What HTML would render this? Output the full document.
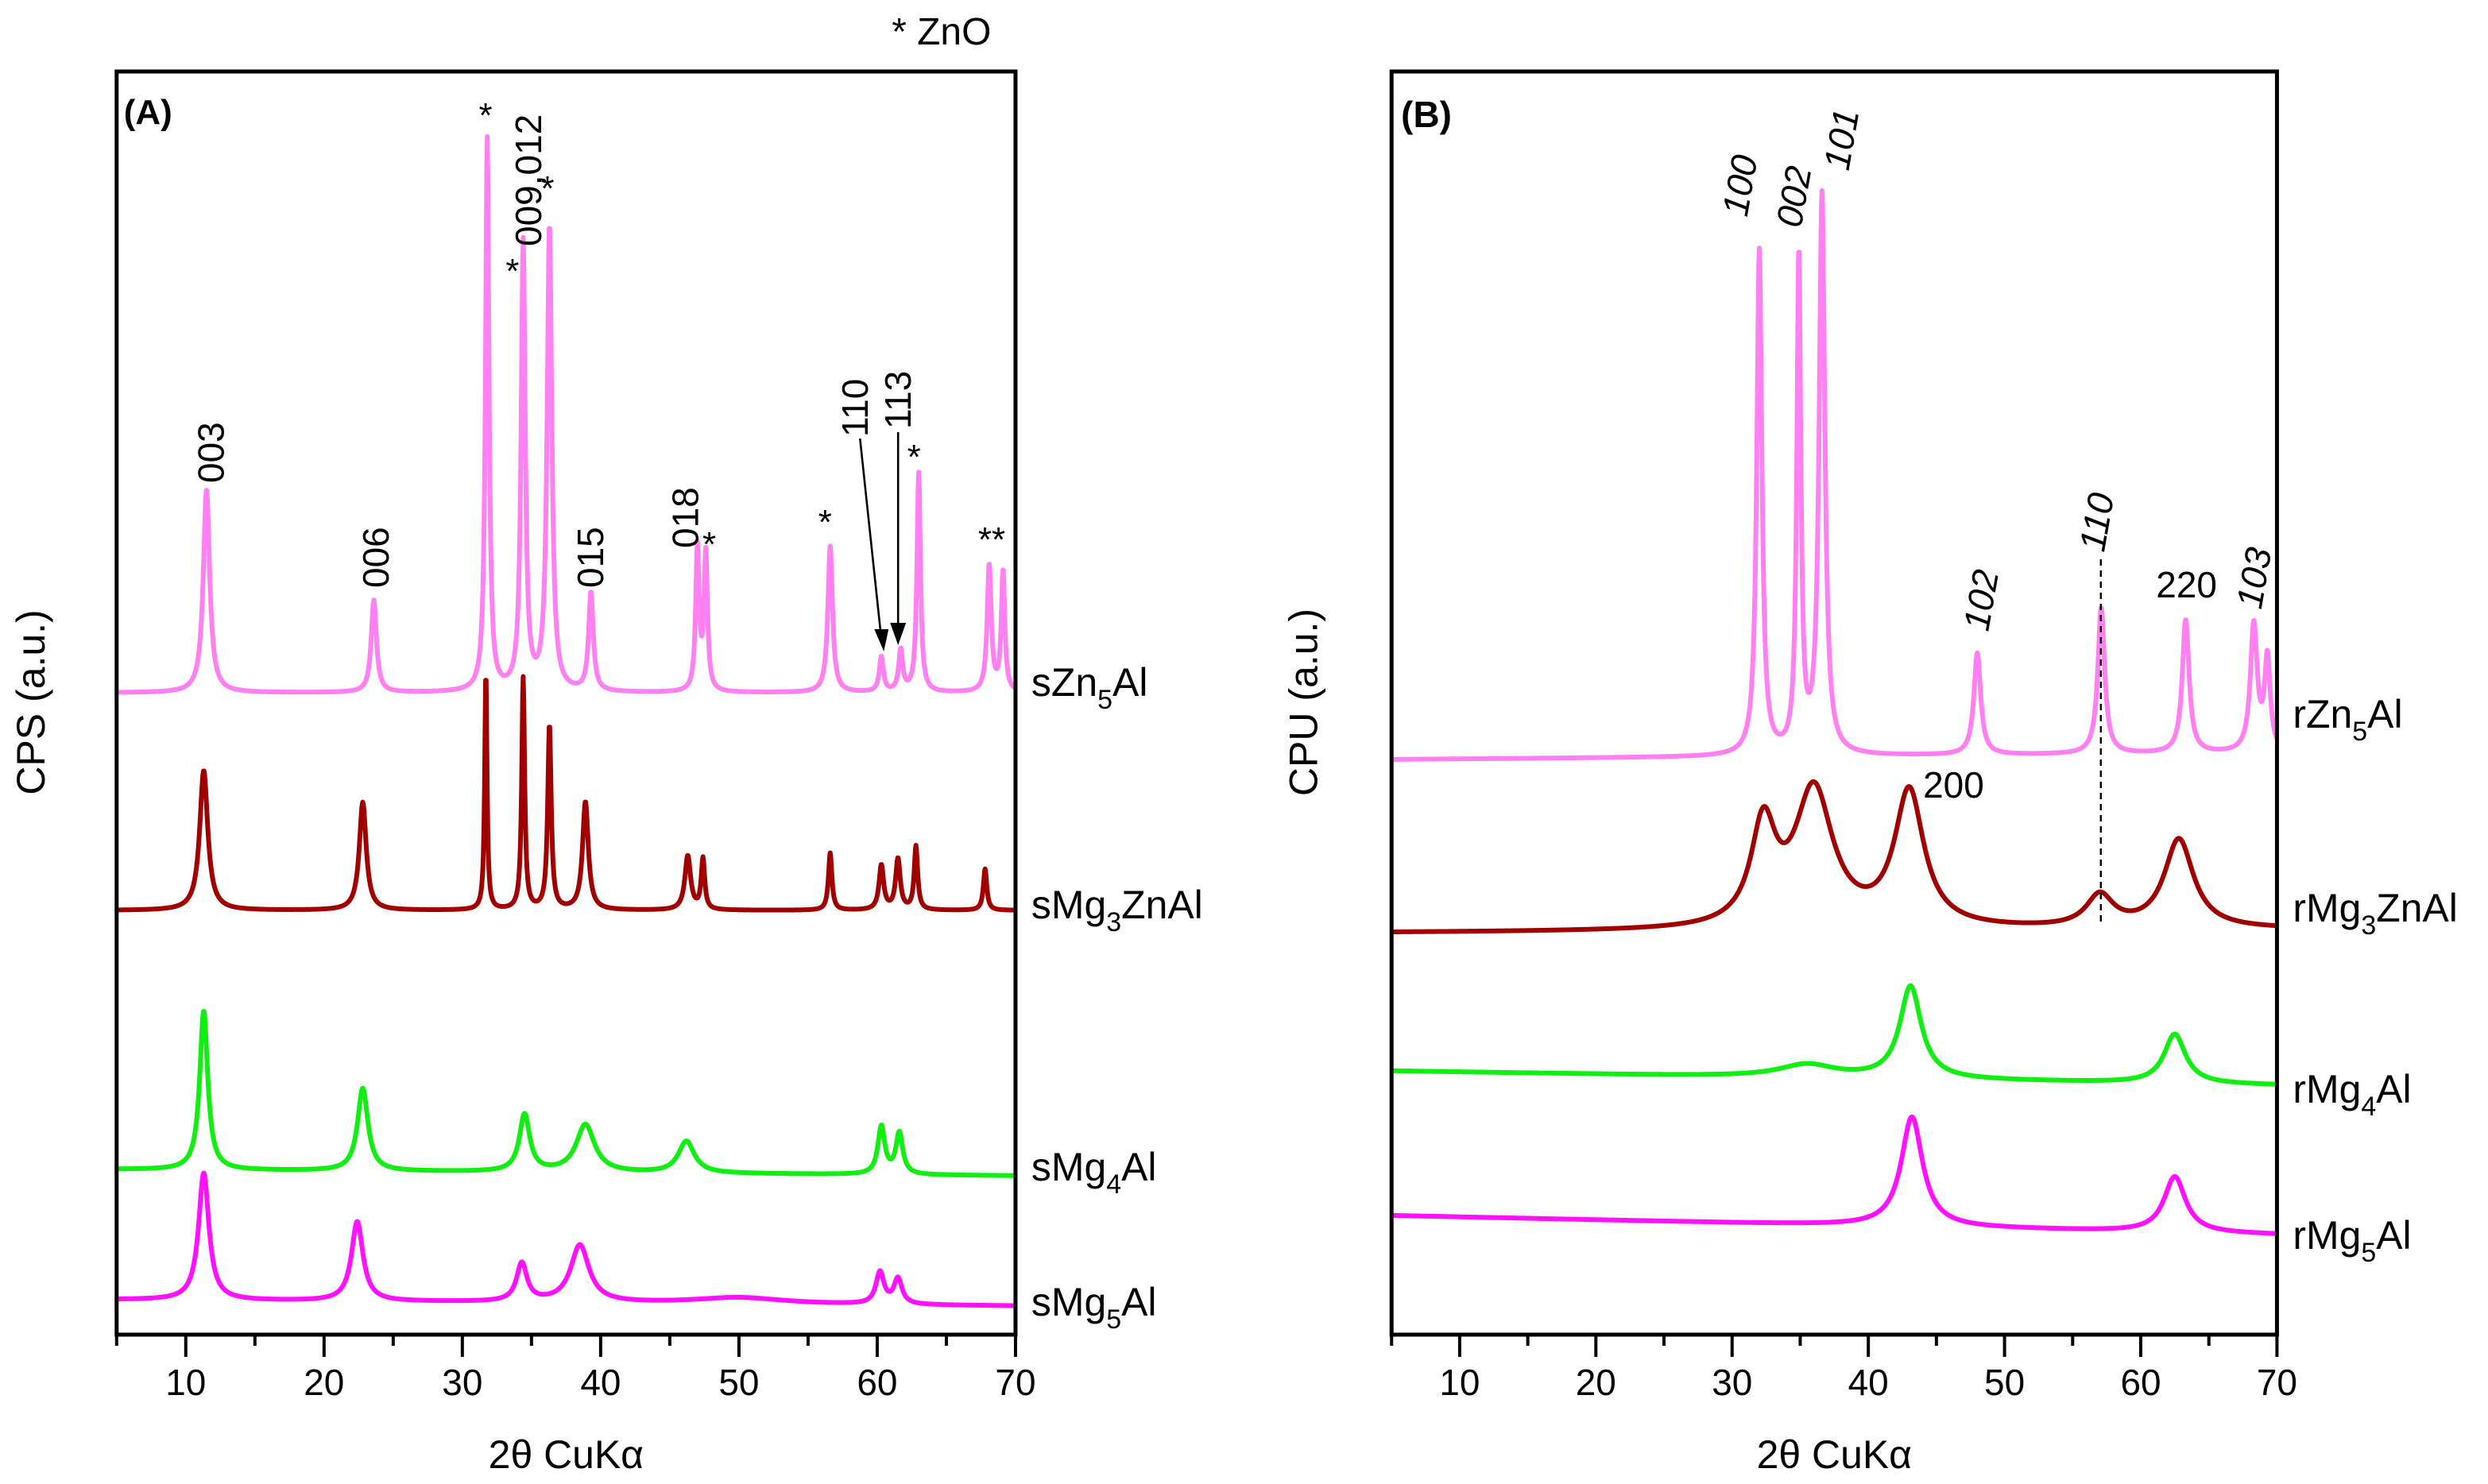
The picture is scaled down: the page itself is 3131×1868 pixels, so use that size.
<!DOCTYPE html>
<html><head><meta charset="utf-8">
<style>
html,body{margin:0;padding:0;background:#fff;}
svg{display:block;}
text{font-family:"Liberation Sans Narrow","Liberation Sans",sans-serif;fill:#000;}
</style></head>
<body>
<svg id="chart" width="3131" height="1868" viewBox="0 0 1568 934" preserveAspectRatio="none" xmlns="http://www.w3.org/2000/svg">
  <g id="panelA"></g>
  <g id="panelB"></g>
</svg>
<script>
// ---------- DATA ----------
const xTicks = [10, 20, 30, 40, 50, 60, 70];
const xTickLabels = ["10", "20", "30", "40", "50", "60", "70"];
// Panel A series: peak positions (2θ), heights (a.u.), widths (FWHM deg)
const sZn5AlPos = [11.5, 23.6, 31.8, 34.4, 36.3, 39.3, 47.0, 47.6, 56.6, 60.3, 61.7, 63.0, 68.1, 69.1];
const sZn5AlHeight = [128, 58, 348, 282, 292, 62, 90, 86, 92, 22, 26, 138, 80, 76];
const sZn5AlWidth = [0.55, 0.45, 0.3, 0.35, 0.4, 0.4, 0.3, 0.3, 0.4, 0.35, 0.35, 0.3, 0.35, 0.3];
const sMg3ZnAlPos = [11.3, 22.8, 31.7, 34.4, 36.3, 38.9, 46.3, 47.4, 56.6, 60.3, 61.5, 62.8, 67.8];
const sMg3ZnAlHeight = [88, 68, 150, 146, 116, 68, 34, 32, 36, 28, 32, 40, 26];
const sMg3ZnAlWidth = [0.7, 0.6, 0.2, 0.25, 0.3, 0.5, 0.5, 0.3, 0.3, 0.4, 0.4, 0.3, 0.3];
const sMg4AlPos = [11.3, 22.8, 34.5, 38.9, 46.2, 60.3, 61.6];
const sMg4AlHeight = [100, 52, 36, 30, 20, 30, 26];
const sMg4AlWidth = [0.7, 0.9, 0.9, 1.6, 1.4, 0.6, 0.6];
const sMg5AlPos = [11.3, 22.4, 34.3, 38.5, 50.0, 60.2, 61.5];
const sMg5AlHeight = [80, 50, 24, 36, 4, 20, 16];
const sMg5AlWidth = [0.9, 1.0, 0.9, 1.6, 8, 0.7, 0.7];
// Panel B series
const rZn5AlPos = [32.0, 34.9, 36.6, 48.0, 57.1, 63.3, 68.3, 69.3];
const rZn5AlHeight = [318, 312, 352, 64, 92, 84, 80, 58];
const rZn5AlWidth = [0.45, 0.35, 0.5, 0.6, 0.6, 0.6, 0.6, 0.5];
const rMg3ZnAlPos = [32.3, 36.0, 43.0, 57.0, 62.8];
const rMg3ZnAlHeight = [62, 86, 85, 20, 56];
const rMg3ZnAlWidth = [2.2, 3.4, 2.6, 2.4, 2.6];
const rMg4AlPos = [35.5, 43.1, 62.5];
const rMg4AlHeight = [8, 58, 31];
const rMg4AlWidth = [5, 1.9, 1.9];
const rMg5AlPos = [43.2, 62.5];
const rMg5AlHeight = [69, 35];
const rMg5AlWidth = [1.9, 1.9];
// baselines (a.u. offsets, start/end)
const baseA = [[436, 436], [573, 573], [736, 740], [818, 822]];
const baseB = [[478, 474], [587, 585], [674, 683], [765, 777]];

// ---------- HELPERS ----------
const NS = "http://www.w3.org/2000/svg";
function mk(tag, attrs, parent, txt) {
  const e = document.createElementNS(NS, tag);
  for (const k in attrs) e.setAttribute(k, attrs[k]);
  if (txt !== undefined) e.textContent = txt;
  parent.appendChild(e);
  return e;
}
function curve(pos, h, w, base, t) {
  let v = base[0] + (base[1] - base[0]) * (t - 5) / 65;
  for (let i = 0; i < pos.length; i++) {
    const d = (t - pos[i]) / (w[i] / 2);
    v -= h[i] / (1 + d * d);
  }
  return v;
}

function panel(g, x0, x1, yTop, yBot, series, colors, names, baseArr, ytitle, ytitleX, tag) {
  const xs = t => x0 + (t - 5) * (x1 - x0) / 65;
  series.forEach((s, i) => {
    let d = "";
    for (let t = 5; t <= 70.0001; t += 0.04) {
      d += (d ? "L" : "M") + xs(t).toFixed(2) + "," + curve(s[0], s[1], s[2], baseArr[i], t).toFixed(2);
    }
    const p = mk("path", {d: d, fill: "none", stroke: colors[i], "stroke-width": 3, "stroke-linejoin": "round"}, g);
    
    
  });
  const fr = mk("rect", {x: x0, y: yTop, width: x1 - x0, height: yBot - yTop, fill: "none", stroke: "#000", "stroke-width": 2.5}, g);
  
  
  for (let t = 5; t <= 70; t += 5) {
    const major = t % 10 === 0;
    const tk = mk("line", {x1: xs(t), x2: xs(t), y1: yBot, y2: yBot + (major ? 14 : 7), stroke: "#000", "stroke-width": 2}, g);
    
    
  }
  xTicks.forEach((t, i) => {
    const tl = mk("text", {x: xs(t), y: yBot + 38, "font-size": 23, "text-anchor": "middle"}, g, xTickLabels[i]);
    
    
  });
  const xt = mk("text", {x: (x0 + x1) / 2, y: yBot + 84, "font-size": 25, "text-anchor": "middle"}, g, "2θ CuKα");
  
  
  const yt = mk("text", {x: 0, y: 0, "font-size": 25, "text-anchor": "middle", transform: "translate(" + ytitleX + ",442) rotate(-90)"}, g, ytitle);
  
  
  return xs;
}
function label(g, x, y, txt, name, opts) {
  opts = opts || {};
  const a = {x: x, y: y, "font-size": opts.size || 22};
  if (opts.rot) { a.transform = "rotate(-90 " + x + " " + y + ")"; }
  if (opts.italic) a["font-style"] = "italic";
  if (opts.bold) a["font-weight"] = "bold";
  if (opts.anchor) a["text-anchor"] = opts.anchor;
  const e = mk("text", a, g, "");
  
  
  return e;
}
function seriesLabel(g, x, y, pre, sub, post, name) {
  const e = label(g, x, y, "", name, {size: 25});
  mk("tspan", {}, e, pre);
  mk("tspan", {dy: 8, "font-size": 17}, e, sub);
  mk("tspan", {dy: -8}, e, post);
}

// ---------- PANEL A ----------
const gA = document.getElementById("panelA");
panel(gA, 73.5, 640, 45, 840,
  [[sZn5AlPos, sZn5AlHeight, sZn5AlWidth], [sMg3ZnAlPos, sMg3ZnAlHeight, sMg3ZnAlWidth],
   [sMg4AlPos, sMg4AlHeight, sMg4AlWidth], [sMg5AlPos, sMg5AlHeight, sMg5AlWidth]],
  ["#ff80f0", "#a00000", "#11ee11", "#ff11ff"], ["sZn5Al", "sMg3ZnAl", "sMg4Al", "sMg5Al"], baseA,
  "CPS (a.u.)", 28, "a");
label(gA, 78, 78, "(A)", "panel-a-tag", {size: 22, bold: true}).textContent = "(A)";
label(gA, 562, 28, "* ZnO", "zno-legend", {size: 24}).textContent = "* ZnO";
[["003", 141, 304], ["006", 245, 370], ["009,012", 341, 155], ["015", 380, 370], ["018", 440, 345], ["110", 547, 275], ["113", 574, 270]]
  .forEach(l => { label(gA, l[1], l[2], "", "peak-label-" + l[0].replace(",", "-"), {rot: true, size: 23}).textContent = l[0]; });
[[306, 80, "*"], [323, 178, "*"], [345, 126, "*"], [447, 350, "*"], [520, 336, "*"], [576, 295, "*"], [625, 347, "**"]]
  .forEach((s, i) => { label(gA, s[0], s[1], "", "zno-star-" + i, {size: 22, anchor: "middle"}).textContent = s[2]; });
const arr1 = mk("path", {d: "M542,276 L555,398", stroke: "#000", "stroke-width": 1.3, fill: "none"}, gA);


const ah1 = mk("path", {d: "M551,396 L560,396 L557,410 Z", fill: "#000"}, gA);


const arr2 = mk("path", {d: "M566,272 L566,394", stroke: "#000", "stroke-width": 1.3, fill: "none"}, gA);


const ah2 = mk("path", {d: "M561,392 L571,392 L566,406 Z", fill: "#000"}, gA);


seriesLabel(gA, 650, 438, "sZn", "5", "Al", "series-label-szn5al");
seriesLabel(gA, 650, 578, "sMg", "3", "ZnAl", "series-label-smg3znal");
seriesLabel(gA, 650, 743, "sMg", "4", "Al", "series-label-smg4al");
seriesLabel(gA, 650, 828, "sMg", "5", "Al", "series-label-smg5al");

// ---------- PANEL B ----------
const gB = document.getElementById("panelB");
const xsB = panel(gB, 877, 1435, 45, 840,
  [[rZn5AlPos, rZn5AlHeight, rZn5AlWidth], [rMg3ZnAlPos, rMg3ZnAlHeight, rMg3ZnAlWidth],
   [rMg4AlPos, rMg4AlHeight, rMg4AlWidth], [rMg5AlPos, rMg5AlHeight, rMg5AlWidth]],
  ["#ff80f0", "#a00000", "#11ee11", "#ff11ff"], ["rZn5Al", "rMg3ZnAl", "rMg4Al", "rMg5Al"], baseB,
  "CPU (a.u.)", 830, "b");
label(gB, 883, 80, "", "panel-b-tag", {size: 23, bold: true}).textContent = "(B)";
[["100", 1101, 137], ["002", 1135, 144], ["101", 1165, 108], ["102", 1253, 398], ["110", 1326, 348], ["103", 1425, 384]]
  .forEach(l => {
    const e = label(gB, l[1], l[2], "", "peak-label-b-" + l[0], {italic: true, size: 23});
    e.setAttribute("transform", "rotate(-80 " + l[1] + " " + l[2] + ")");
    e.textContent = l[0];
  });
label(gB, 1378, 376, "", "peak-label-b-220", {size: 23, anchor: "middle"}).textContent = "220";
label(gB, 1212, 502, "", "peak-label-b-200", {size: 23, anchor: "start"}).textContent = "200";
const dl = mk("line", {x1: 1324, x2: 1324, y1: 352, y2: 583, stroke: "#000", "stroke-width": 1.2, "stroke-dasharray": "4,3"}, gB);


seriesLabel(gB, 1445, 458, "rZn", "5", "Al", "series-label-rzn5al");
seriesLabel(gB, 1445, 580, "rMg", "3", "ZnAl", "series-label-rmg3znal");
seriesLabel(gB, 1445, 694, "rMg", "4", "Al", "series-label-rmg4al");
seriesLabel(gB, 1445, 786, "rMg", "5", "Al", "series-label-rmg5al");
</script>
</body></html>
